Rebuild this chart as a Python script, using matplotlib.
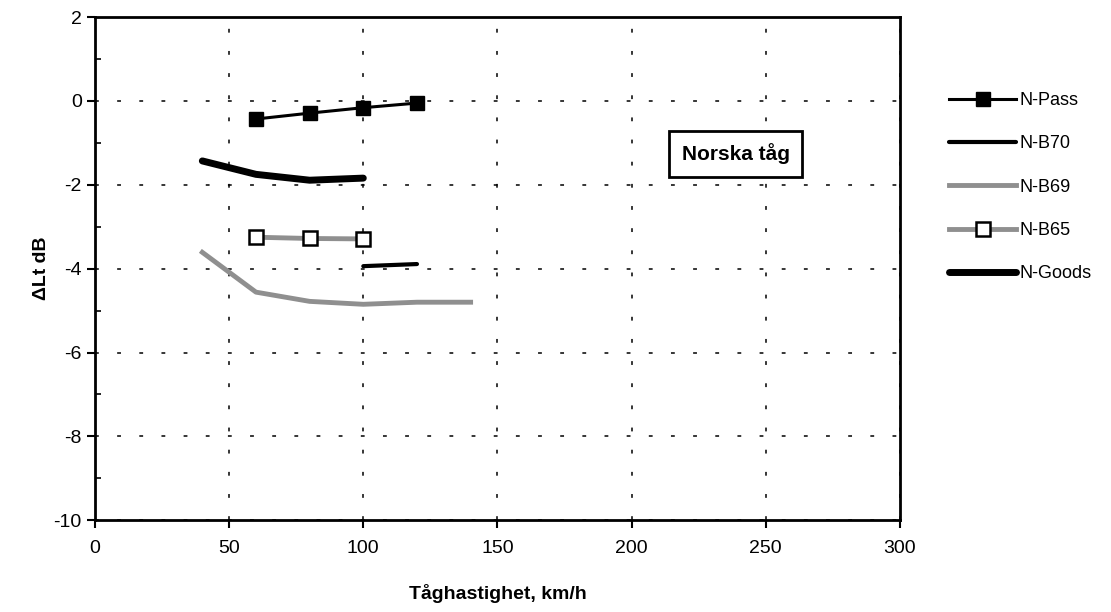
import matplotlib.pyplot as plt
from matplotlib.ticker import MultipleLocator

plt.rcParams['font.family'] = ['Liberation Sans', 'DejaVu Sans']
plt.rcParams['axes.unicode_minus'] = False

# N-Pass
pass_x = [60, 80, 100, 120]
pass_y = [-0.43, -0.29, -0.16, -0.05]
# N-B70
b70_x = [100, 120]
b70_y = [-3.94, -3.89]
# N-B69
b69_x = [40, 60, 80, 100, 120, 140]
b69_y = [-3.61, -4.56, -4.78, -4.85, -4.80, -4.80]
# N-B65
b65_x = [60, 80, 100]
b65_y = [-3.25, -3.28, -3.29]
# N-Goods
goods_x = [40, 60, 80, 100]
goods_y = [-1.43, -1.75, -1.89, -1.84]

x_ticks = [0, 50, 100, 150, 200, 250, 300]
y_ticks = [-10, -8, -6, -4, -2, 0, 2]

fig = plt.figure(figsize=(11.11, 6.12), dpi=100)
ax = fig.add_axes([0.0855, 0.150, 0.7245, 0.822])

gray = '#8f8f8f'
ax.plot(pass_x, pass_y, color='black', lw=2.2, marker='s', ms=10.5,
        mfc='black', mec='black', label='N-Pass', zorder=5)
ax.plot(b70_x, b70_y, color='black', lw=3, solid_capstyle='round',
        label='N-B70', zorder=4)
ax.plot(b69_x, b69_y, color=gray, lw=3.5, label='N-B69', zorder=3)
ax.plot(b65_x, b65_y, color=gray, lw=3.5, marker='s', ms=10.5,
        mfc='white', mec='black', mew=1.8, label='N-B65', zorder=4)
ax.plot(goods_x, goods_y, color='black', lw=5, solid_capstyle='round',
        label='N-Goods', zorder=4)

ax.set_xlim(0, 300)
ax.set_ylim(-10, 2)
ax.set_xticks(x_ticks)
ax.set_yticks(y_ticks)
ax.yaxis.set_minor_locator(MultipleLocator(1))
ax.tick_params(axis='both', which='major', direction='out', length=6,
               width=1.5, labelsize=14, colors='black')
ax.tick_params(axis='y', which='minor', direction='in', length=4, width=1.2)
ax.tick_params(axis='x', which='major', pad=8)

for s in ax.spines.values():
    s.set_linewidth(2)
    s.set_color('black')

ax.grid(True, which='major', color='black', lw=1.1, linestyle=(0, (2.5, 12)))
ax.set_axisbelow(True)

ax.set_xlabel('Tåghastighet, km/h', fontsize=14, fontweight='bold', labelpad=20)
ax.set_ylabel('ΔLt dB', fontsize=14, fontweight='bold')
ax.yaxis.set_label_coords(-0.056, 0.5)

ax.text(0.796, 0.728, 'Norska tåg', transform=ax.transAxes, fontsize=15,
        fontweight='bold', ha='center', va='center',
        bbox=dict(boxstyle='square,pad=0.6', fc='white', ec='black', lw=2))

leg = ax.legend(loc='upper left', bbox_to_anchor=(0.848, 0.861),
                bbox_transform=fig.transFigure, frameon=False, fontsize=13,
                handlelength=3.7, handletextpad=0.2, labelspacing=1.45,
                borderaxespad=0)

fig.savefig('out.png', dpi=100, facecolor='white')
